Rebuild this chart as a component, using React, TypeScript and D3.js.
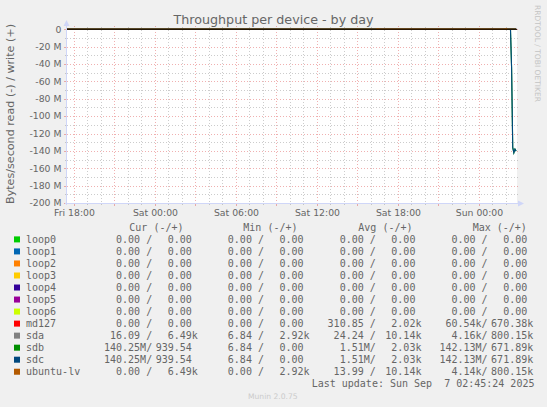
import React, { useEffect, useRef } from 'react';
import * as d3 from 'd3';

const DEVICES = ['loop0', 'loop1', 'loop2', 'loop3', 'loop4', 'loop5', 'loop6', 'md127', 'sda', 'sdb', 'sdc', 'ubuntu-lv'];
const COLORS = ['#00CC00', '#0066B3', '#FF8000', '#FFCC00', '#330099', '#990099', '#CCFF00', '#FF0000', '#808080', '#008F00', '#00487D', '#B35A00'];

// legend values, read (-) / write (+)
const CUR_READ = ['0.00', '0.00', '0.00', '0.00', '0.00', '0.00', '0.00', '0.00', '16.09', '140.25M', '140.25M', '0.00'];
const CUR_WRITE = ['0.00', '0.00', '0.00', '0.00', '0.00', '0.00', '0.00', '0.00', '6.49k', '939.54', '939.54', '6.49k'];
const MIN_READ = ['0.00', '0.00', '0.00', '0.00', '0.00', '0.00', '0.00', '0.00', '6.84', '6.84', '6.84', '0.00'];
const MIN_WRITE = ['0.00', '0.00', '0.00', '0.00', '0.00', '0.00', '0.00', '0.00', '2.92k', '0.00', '0.00', '2.92k'];
const AVG_READ = ['0.00', '0.00', '0.00', '0.00', '0.00', '0.00', '0.00', '310.85', '24.24', '1.51M', '1.51M', '13.99'];
const AVG_WRITE = ['0.00', '0.00', '0.00', '0.00', '0.00', '0.00', '0.00', '2.02k', '10.14k', '2.03k', '2.03k', '10.14k'];
const MAX_READ = ['0.00', '0.00', '0.00', '0.00', '0.00', '0.00', '0.00', '60.54k', '4.16k', '142.13M', '142.13M', '4.14k'];
const MAX_WRITE = ['0.00', '0.00', '0.00', '0.00', '0.00', '0.00', '0.00', '670.38k', '800.15k', '671.89k', '671.89k', '800.15k'];
const COLUMN_HEADERS = ['Cur (-/+)', 'Min (-/+)', 'Avg (-/+)', 'Max (-/+)'];

// graph window (UTC), 400 x 5 min
const WINDOW = [Date.UTC(2025, 8, 5, 17, 29), Date.UTC(2025, 8, 7, 2, 49)];
const FLAT_TIMES = [Date.UTC(2025, 8, 5, 17, 29), Date.UTC(2025, 8, 7, 2, 45)];
const FLAT_VALUES = [0, 0];

// sdb / sdc read burst at the end of the window
const SD_TIMES = ['2025-09-07T02:20:00Z', '2025-09-07T02:25:00Z', '2025-09-07T02:30:00Z', '2025-09-07T02:35:00Z', '2025-09-07T02:40:00Z', '2025-09-07T02:45:00Z'];
const SDB_READ = [0, -45e6, -136e6, -142.13e6, -138e6, -140.25e6];
const SDC_READ = [0, -45e6, -136e6, -142.13e6, -138e6, -140.25e6];

// ubuntu-lv write spikes
const LV_TIMES = ['2025-09-06T16:25:00Z', '2025-09-06T16:30:00Z', '2025-09-06T16:35:00Z', '2025-09-07T01:55:00Z', '2025-09-07T02:00:00Z', '2025-09-07T02:05:00Z'];
const LV_WRITE = [0, 800.15e3, 0, 0, 670e3, 0];

const Y_DOMAIN = [-200e6, 0];
const LAST_UPDATE = 'Last update: Sun Sep\u00A0\u00A07 02:45:24 2025';
const TITLE = 'Throughput per device - by day';
const Y_LABEL = 'Bytes/second read (-) / write (+)';

const SANS = 'DejaVu Sans, Verdana, sans-serif';
const MONO = 'DejaVu Sans Mono, monospace';
const FONT = '#666666';
const AXIS = '#CFD6F8';

const App: React.FC = () => {
  const ref = useRef<SVGSVGElement>(null);

  useEffect(() => {
    const svgEl = ref.current;
    if (!svgEl) return;
    const W = 547;
    const H = 407;
    const L = 67;
    const R = 517;
    const T = 29.3;
    const B = 203;

    const svg = d3.select(svgEl);
    svg.selectAll('*').remove();

    svg.append('rect').attr('width', W).attr('height', H).attr('fill', '#F0F0F0');
    svg.append('rect').attr('x', L).attr('y', T).attr('width', R - L).attr('height', B - T).attr('fill', '#FFFFFF');

    const x = d3.scaleUtc().domain(WINDOW).range([L, R]);
    const y = d3.scaleLinear().domain(Y_DOMAIN).range([B, T]);

    const grid = svg.append('g').attr('shape-rendering', 'crispEdges');
    const minorY = y.ticks(20);
    const majorY = y.ticks(10);
    const minorX = x.ticks(d3.utcHour.every(1) as d3.TimeInterval);
    const majorX = x.ticks(d3.utcHour.every(3) as d3.TimeInterval);
    const labelX = x.ticks(d3.utcHour.every(6) as d3.TimeInterval);

    const gridColor = 'rgba(143,143,143,0.45)';
    const mgridColor = 'rgba(222,79,79,0.45)';

    minorY.filter((v) => !majorY.includes(v)).forEach((v) => {
      const yy = Math.round(y(v)) + 0.5;
      grid.append('line').attr('x1', L).attr('x2', R + 2).attr('y1', yy).attr('y2', yy)
        .attr('stroke', gridColor).attr('stroke-dasharray', '1 2');
      grid.append('line').attr('x1', L - 2).attr('x2', L).attr('y1', yy).attr('y2', yy).attr('stroke', gridColor);
    });
    minorX.filter((t) => !majorX.some((m) => +m === +t)).forEach((t) => {
      const xx = Math.round(x(t)) + 0.5;
      grid.append('line').attr('x1', xx).attr('x2', xx).attr('y1', T - 2).attr('y2', B)
        .attr('stroke', gridColor).attr('stroke-dasharray', '1 2');
      grid.append('line').attr('x1', xx).attr('x2', xx).attr('y1', B).attr('y2', B + 2).attr('stroke', gridColor);
    });
    majorY.forEach((v) => {
      const yy = Math.round(y(v)) + 0.5;
      grid.append('line').attr('x1', L).attr('x2', R + 2).attr('y1', yy).attr('y2', yy)
        .attr('stroke', mgridColor).attr('stroke-dasharray', '1 2');
      grid.append('line').attr('x1', L - 3).attr('x2', L).attr('y1', yy).attr('y2', yy).attr('stroke', mgridColor);
    });
    majorX.forEach((t) => {
      const xx = Math.round(x(t)) + 0.5;
      grid.append('line').attr('x1', xx).attr('x2', xx).attr('y1', T - 3).attr('y2', B)
        .attr('stroke', mgridColor).attr('stroke-dasharray', '1 2');
      grid.append('line').attr('x1', xx).attr('x2', xx).attr('y1', B).attr('y2', B + 3).attr('stroke', mgridColor);
    });

    // series
    const line = d3.line<[number, number]>().x((d) => x(d[0])).y((d) => y(d[1]));
    const flat = FLAT_TIMES.map((t, i) => [t, FLAT_VALUES[i]] as [number, number]);
    const lines = svg.append('g').attr('fill', 'none').attr('stroke-width', 1.1);
    DEVICES.forEach((dev, i) => {
      let read = flat;
      let write = flat;
      if (dev === 'sdb') read = SD_TIMES.map((t, k) => [Date.parse(t), SDB_READ[k]] as [number, number]);
      if (dev === 'sdc') read = SD_TIMES.map((t, k) => [Date.parse(t), SDC_READ[k]] as [number, number]);
      if (dev === 'ubuntu-lv') write = LV_TIMES.map((t, k) => [Date.parse(t), LV_WRITE[k]] as [number, number]);
      lines.append('path').attr('d', line(read)).attr('stroke', COLORS[i]);
      lines.append('path').attr('d', line(write)).attr('stroke', COLORS[i]);
    });

    // zero line
    svg.append('line').attr('x1', L).attr('x2', R).attr('y1', y(0)).attr('y2', y(0))
      .attr('stroke', '#000').attr('stroke-width', 1.1);

    // axes with arrows
    svg.append('line').attr('x1', L - 0.5).attr('x2', L - 0.5).attr('y1', B + 2).attr('y2', 24)
      .attr('stroke', AXIS).attr('stroke-width', 1);
    svg.append('path').attr('d', d3.line()([[L - 3.5, 26], [L + 2.5, 26], [L - 0.5, 20]]) + 'Z').attr('fill', AXIS);
    svg.append('line').attr('x1', L - 2).attr('x2', R + 3).attr('y1', B + 0.5).attr('y2', B + 0.5)
      .attr('stroke', AXIS).attr('stroke-width', 1);
    svg.append('path').attr('d', d3.line()([[R + 1, B - 2.5], [R + 1, B + 3.5], [R + 7, B + 0.5]]) + 'Z').attr('fill', AXIS);

    // tick labels
    svg.append('g').selectAll('text').data(majorY).join('text')
      .attr('x', 61.5).attr('y', (d) => y(d) + 3.3)
      .attr('text-anchor', 'end').attr('font-family', SANS).attr('font-size', 9.3).attr('fill', FONT)
      .text((d) => (d === 0 ? '0' : `${d / 1e6} M`));
    const fmt = d3.utcFormat('%a %H:%M');
    svg.append('g').selectAll('text').data(labelX).join('text')
      .attr('x', (d) => x(d) + 0.5).attr('y', 215.5)
      .attr('text-anchor', 'middle').attr('font-family', SANS).attr('font-size', 9.3).attr('fill', FONT)
      .text((d) => fmt(d));

    // titles
    svg.append('text').attr('x', 273.5).attr('y', 24).attr('text-anchor', 'middle')
      .attr('font-family', SANS).attr('font-size', 12.7).attr('fill', FONT).text(TITLE);
    svg.append('text').attr('transform', 'translate(13.5,114) rotate(-90)').attr('text-anchor', 'middle')
      .attr('font-family', SANS).attr('font-size', 10.5).attr('fill', FONT)
      .attr('textLength', 180).attr('lengthAdjust', 'spacingAndGlyphs').text(Y_LABEL);
    svg.append('text').attr('transform', 'translate(535,5) rotate(90)').attr('text-anchor', 'start')
      .attr('font-family', SANS).attr('font-size', 7.6).attr('fill', '#C4C4C4')
      .attr('textLength', 97).attr('lengthAdjust', 'spacingAndGlyphs').text('RRDTOOL / TOBI OETIKER');

    // legend
    const CW = 6.02;
    const NEG_X = [104, 215.8, 327.6, 439.4];
    const POS_DX = 51.7;
    const HEAD_X = [129.3, 243.3, 358.3, 472.7];
    const leg = svg.append('g').attr('font-family', MONO).attr('font-size', 10).attr('fill', FONT);
    COLUMN_HEADERS.forEach((h, c) => {
      leg.append('text').attr('x', HEAD_X[c]).attr('y', 231).text(h);
    });
    const cols = [[CUR_READ, CUR_WRITE], [MIN_READ, MIN_WRITE], [AVG_READ, AVG_WRITE], [MAX_READ, MAX_WRITE]];
    const split = (s: string) => {
      const m = s.match(/^([\d.]+)([kMG]?)$/);
      return m ? { num: m[1], unit: m[2] } : { num: s, unit: '' };
    };
    DEVICES.forEach((dev, i) => {
      const cy = 239.4 + i * 12.03;
      const base = cy + 3.6;
      leg.append('rect').attr('x', 14).attr('y', cy - 3).attr('width', 6).attr('height', 6).attr('fill', COLORS[i]);
      leg.append('text').attr('x', 26).attr('y', base).text(dev);
      cols.forEach(([rd, wr], c) => {
        const r = split(rd[i]);
        const w = split(wr[i]);
        leg.append('text').attr('x', NEG_X[c] + (6 - r.num.length) * CW).attr('y', base)
          .text(`${r.num}${r.unit || '\u00A0'}/`);
        leg.append('text').attr('x', NEG_X[c] + POS_DX + (6 - w.num.length) * CW).attr('y', base)
          .text(`${w.num}${w.unit}`);
      });
    });
    leg.append('text').attr('x', 311.7).attr('y', 387).text(LAST_UPDATE);

    svg.append('text').attr('x', 272.8).attr('y', 398.5).attr('text-anchor', 'middle')
      .attr('font-family', SANS).attr('font-size', 7.6).attr('fill', '#CBCBCB').text('Munin 2.0.75');
  }, []);

  return (
    <svg
      ref={ref}
      width={547}
      height={407}
      style={{ position: 'absolute', left: 0, top: 0, display: 'block' }}
      aria-label="Throughput per device - by day"
    />
  );
};

export default App;
